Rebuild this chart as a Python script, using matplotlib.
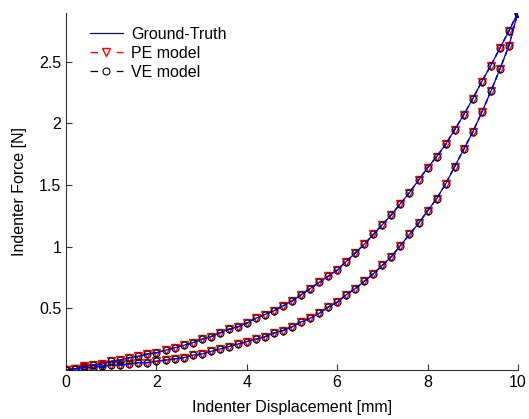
import matplotlib
matplotlib.use('Agg')
import matplotlib.pyplot as plt
from matplotlib.lines import Line2D

plt.rcParams['font.family'] = ['Liberation Sans', 'DejaVu Sans']

# displacement samples [mm]
disp = [0.0, 0.2, 0.4, 0.6, 0.8, 1.0, 1.2, 1.4, 1.6, 1.8,
        2.0, 2.2, 2.4, 2.6, 2.8, 3.0, 3.2, 3.4, 3.6, 3.8,
        4.0, 4.2, 4.4, 4.6, 4.8, 5.0, 5.2, 5.4, 5.6, 5.8,
        6.0, 6.2, 6.4, 6.6, 6.8, 7.0, 7.2, 7.4, 7.6, 7.8,
        8.0, 8.2, 8.4, 8.6, 8.8, 9.0, 9.2, 9.4, 9.6, 9.8, 10.0]

# upper branch of the force curve [N]
force_upper = [0.00, 0.01, 0.03, 0.04, 0.05, 0.07, 0.08, 0.10, 0.11, 0.13,
               0.14, 0.16, 0.18, 0.20, 0.22, 0.25, 0.27, 0.30, 0.33, 0.35,
               0.38, 0.42, 0.45, 0.48, 0.52, 0.56, 0.61, 0.66, 0.71, 0.76,
               0.81, 0.88, 0.95, 1.02, 1.10, 1.18, 1.26, 1.35, 1.44, 1.54,
               1.64, 1.73, 1.83, 1.95, 2.07, 2.20, 2.34, 2.47, 2.61, 2.75, 2.90]

# lower branch of the force curve [N]
force_lower = [0.00, 0.01, 0.02, 0.02, 0.03, 0.04, 0.04, 0.05, 0.06, 0.06,
               0.07, 0.08, 0.09, 0.10, 0.12, 0.13, 0.15, 0.17, 0.19, 0.21,
               0.23, 0.25, 0.27, 0.30, 0.32, 0.35, 0.39, 0.42, 0.46, 0.51,
               0.55, 0.61, 0.66, 0.72, 0.78, 0.85, 0.92, 1.01, 1.10, 1.19,
               1.29, 1.39, 1.51, 1.65, 1.79, 1.93, 2.09, 2.26, 2.44, 2.63, 2.90]

x_ticks = [0, 2, 4, 6, 8, 10]
y_ticks = [0.5, 1, 1.5, 2, 2.5]
y_tick_labels = ['0.5', '1', '1.5', '2', '2.5']

pe_style = dict(color='red', linewidth=0.9, marker='v', markersize=5.5,
                markerfacecolor='none', markeredgecolor='red', markeredgewidth=1.0)
ve_style = dict(color='black', linewidth=0.9, marker='o', markersize=5,
                markerfacecolor='none', markeredgecolor='black', markeredgewidth=0.8)
gt_style = dict(color='#0000ee', linewidth=0.9)

fig = plt.figure(figsize=(5.29, 4.19), dpi=100)
ax = fig.add_axes([0.125, 0.117, 0.854, 0.853])

for f in [force_upper, force_lower]:
    ax.plot(disp, f, linestyle=(0, (4, 3)), zorder=2, **pe_style)
    ax.plot(disp, f, linestyle=(0, (4, 3)), zorder=3, **ve_style)
    ax.plot(disp, f, zorder=4, **gt_style)

# legend proxies: "- marker -" look
handles = [
    Line2D([], [], **gt_style),
    Line2D([], [], linestyle=(0, (6, 15)), **pe_style),
    Line2D([], [], linestyle=(0, (6, 15)), **ve_style),
]
ax.legend(handles, ['Ground-Truth', 'PE model', 'VE model'],
          loc='upper left', frameon=False, fontsize=11.5, numpoints=1,
          bbox_to_anchor=(0.02, 1.0), handlelength=2.1, handletextpad=0.5,
          labelspacing=0.25)

ax.set_xlim(0, 10)
ax.set_ylim(0, 2.9)
ax.set_xticks(x_ticks)
ax.set_yticks(y_ticks)
ax.set_yticklabels(y_tick_labels)
ax.tick_params(direction='in', length=4, labelsize=11.5, color='#333333')
ax.spines['top'].set_visible(False)
ax.spines['right'].set_visible(False)
for s in ['left', 'bottom']:
    ax.spines[s].set_color('#333333')
    ax.spines[s].set_linewidth(0.8)

ax.set_xlabel('Indenter Displacement [mm]', fontsize=11.5, labelpad=7)
ax.set_ylabel('Indenter Force [N]', fontsize=11.5, labelpad=9)

fig.savefig('out.png', dpi=100)
